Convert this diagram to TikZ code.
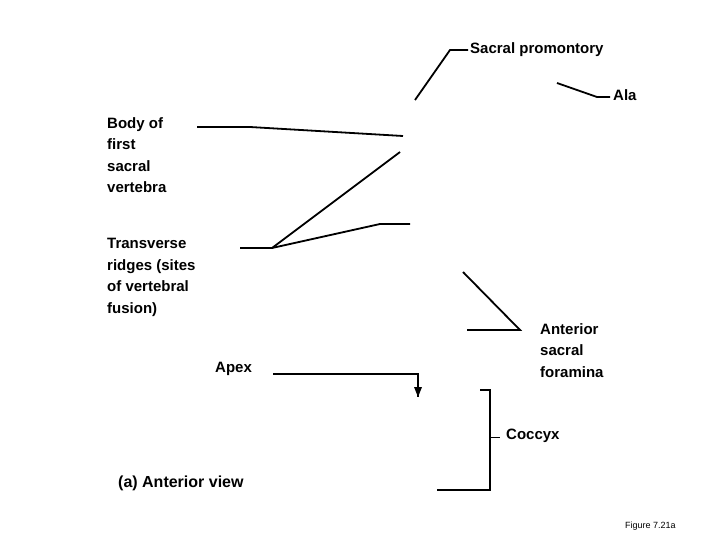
\documentclass[tikz,border=0pt]{standalone}
\usepackage{fontspec}
\setmainfont{Liberation Sans}
\begin{document}
\begin{tikzpicture}[x=1pt,y=-1pt,
  lbl/.style={anchor=north west,inner sep=0pt,font=\fontsize{15}{21.5}\selectfont\bfseries,align=left},
  ln/.style={line width=1.8pt}]
\useasboundingbox (0,0) rectangle (720,540);
\node[lbl] (sp) at (470,42) {Sacral promontory};
\node[lbl] (ala) at (613,89) {Ala};
\node[lbl] (body) at (107,117) {Body of\\first\\sacral\\vertebra};
\node[lbl] (tr) at (107,238) {Transverse\\ridges (sites\\of vertebral\\fusion)};
\node[lbl] (asf) at (540,323) {Anterior\\sacral\\foramina};
\node[lbl] (apex) at (215,362) {Apex};
\node[lbl] (coc) at (506,429) {Coccyx};
\node[lbl,font=\fontsize{16}{20}\selectfont\bfseries] (av) at (118,476) {(a) Anterior view};
\node[lbl,font=\fontsize{9}{11}\selectfont] (fig) at (625,522) {Figure 7.21a};
\coordinate (p1) at (415,100); \coordinate (p2) at (450,50); \coordinate (p3) at (468,50);
\draw[ln] (p1) -- (p2) -- (p3);
\coordinate (a1) at (557,83); \coordinate (a2) at (597,97); \coordinate (a3) at (610,97);
\draw[ln] (a1) -- (a2) -- (a3);
\coordinate (b1) at (197,127); \coordinate (b2) at (250,127); \coordinate (b3) at (403,136);
\draw[ln] (b1) -- (b2) -- (b3);
\coordinate (t1) at (240,248); \coordinate (t2) at (272,248); \coordinate (t3) at (400,152);
\coordinate (t4) at (380,224); \coordinate (t5) at (410,224);
\draw[ln] (t1) -- (t2) -- (t3);
\draw[ln] (t2) -- (t4) -- (t5);
\coordinate (f1) at (463,272); \coordinate (f2) at (520,330); \coordinate (f3) at (467,330);
\draw[ln] (f1) -- (f2) -- (f3);
\coordinate (x1) at (273,374); \coordinate (x2) at (418,374); \coordinate (x3) at (418,397);
\draw[ln] (x1) -- (x2) -- (x3);
\fill (x3) -- ++(-4,-10) -- ++(8,0) -- cycle;
\coordinate (c1) at (480,390); \coordinate (c2) at (490,390); \coordinate (c3) at (490,490); \coordinate (c4) at (437,490);
\coordinate (c5) at (490,437); \coordinate (c6) at (500,437);
\draw[ln] (c1) -- (c2) -- (c3) -- (c4);
\draw[line width=1pt] (c5) -- (c6);
\end{tikzpicture}
\end{document}
